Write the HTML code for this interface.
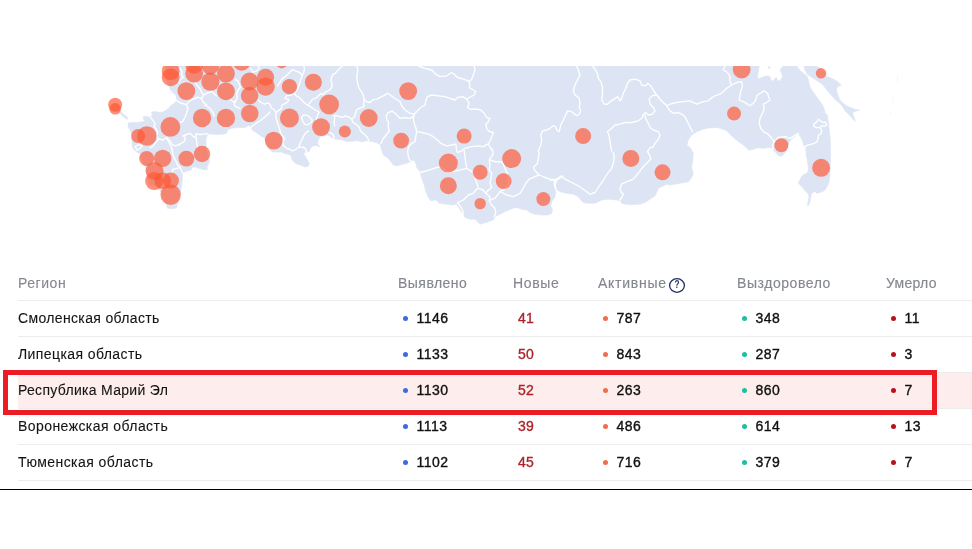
<!DOCTYPE html>
<html lang="ru">
<head>
<meta charset="utf-8">
<title>Коронавирус: статистика по регионам</title>
<style>
html,body{margin:0;padding:0;background:#fff;}
body{width:972px;height:549px;position:relative;overflow:hidden;font-family:"Liberation Sans",sans-serif;font-size:14px;color:#141414;}
#map{position:absolute;left:0;top:66px;display:block;}
.tbl{position:absolute;left:18px;top:265px;width:954px;}
.row{position:relative;height:35px;border-bottom:1px solid #ececec;}
.row.hd{color:#84878f;-webkit-text-stroke:0.15px #84878f;}
.row.hd .t{position:relative;top:1px;}
.row.hl{background:#feeded;}
.c{position:absolute;top:0;height:35px;line-height:35px;white-space:nowrap;}
.c1{left:0;-webkit-text-stroke:0.1px currentColor;}
.c2{left:380px;}
.c3{left:495px;}
.c4{left:580px;}
.c5{left:719px;}
.c6{left:868px;}
.n{color:#111;-webkit-text-stroke:0.36px #111;letter-spacing:0.45px;}
.new{color:#ab252d;-webkit-text-stroke:0.35px #ab252d;letter-spacing:0.25px;}
.d{position:absolute;left:5px;top:15px;width:5px;height:5px;border-radius:50%;}
.n .v{position:absolute;left:18.6px;}
.new .v{position:absolute;left:5px;}
.q{position:absolute;left:70px;top:11px;}
.b{background:#3b6be0}.o{background:#ee6e4b}.g{background:#1ebe9f}.r{background:#b9121b}
.frame{position:absolute;left:3px;top:370px;width:924px;height:35px;border:5px solid #ed1c24;}
.hr{position:absolute;left:0;top:489px;width:972px;height:1px;background:#000;}
</style>
</head>
<body>
<svg id="map" width="972" height="184" viewBox="0 66 972 184">
<defs><clipPath id="mc"><rect x="0" y="66" width="972" height="184"/></clipPath></defs>
<g clip-path="url(#mc)">
<g fill="#dde4f4" stroke="#dde4f4" stroke-width="0.6" stroke-linejoin="round">
<polygon points="166,60 759.2,60 759.2,66 758.3,71.7 757.5,76.7 758.3,79.2 761.7,77.5 766.7,75.8 770,76.7 770.8,80 773.3,81.3 775,78.3 776.7,77.5 777.5,80.8 780,80.8 782.5,76.7 781.7,73.3 780,70 781.7,67.5 783.3,66 783.3,60 797,60 797,66 798.8,68.9 801.4,71.8 804.5,73.9 807,76.4 808.3,79.6 809.1,83.4 810.2,87.1 812.4,90.9 815.2,94.7 817.7,98.4 820.2,101.6 822.7,105.3 824.2,109.1 825.5,113.5 827.3,115 828.6,125 830.2,137.6 830.5,145 830.6,150 830.6,155 830.4,162.6 830.1,172.6 829.7,177.6 828.8,182.7 827.2,186.4 825.3,189.6 822.8,191.5 819,192.7 816.5,193.3 815.3,191.5 813.4,192.1 811.5,194 810.6,197.7 810,201.5 809,204.6 807.7,205.9 807.5,204 808.4,200.3 809,197.1 808.4,194 806.5,192.1 804.6,190.2 802.7,187.7 800.2,185.2 798.3,182.7 800.2,179.5 801.5,176.4 804,174.5 807.7,172.6 808.4,168.8 807.7,163.8 807.1,158.8 805.9,153.8 804.7,147.7 803.4,143.9 802.2,140.2 800.3,136.4 798.4,133.2 795.3,136.4 791.5,138.9 789,142.7 787.7,146.4 786.5,150.2 784.5,153.3 782.5,155.5 780.7,156.5 778.5,155.5 775.8,152.7 773.3,150.2 771.4,147.7 767.6,147.7 762.6,148.3 757.6,147.7 752.6,149.6 748.8,150.2 746.3,147.7 743.8,145.2 740,142.7 737.5,140.8 733.3,137.5 730,134.2 726.7,130.8 721.7,128.7 716.7,127.5 708.3,128 703.3,129.2 696.7,131.7 691.7,135 688.3,140 687,145 687.5,145.8 690.8,148.3 693.3,153.3 692.5,161.7 691.7,168.3 693.3,173.3 691.7,177.5 688.3,181.7 681.7,183 675,184.2 670,185 666.7,184.2 663.3,185.8 658.3,188.3 656.7,192.5 655,195.8 650,199.2 645,202.5 640,204.2 630,204.7 625,204.2 621.7,203.3 620,200.8 616.7,200 608.3,199.2 601.7,200 598.3,201.7 595,203.3 588.3,203.3 583.3,202.5 580.8,200 578.3,196.7 573.3,194.2 566.7,193.3 560,191.7 555,188.3 554.2,187.5 555.8,191.7 555,196.7 551.7,201.7 550.8,205.8 552.5,210 551.7,213.3 548.3,215 541.7,215 535,214.2 530,212.5 526.7,210 521.7,209.2 516.7,207.5 513.3,208.3 506.7,210.8 500,214.2 495,216.7 493.3,220 488.3,221.7 483.3,223.3 480,224.2 477.5,221.7 475,219.2 470,219.2 465,217.5 463.3,214.2 460.8,210.8 458.3,206.7 456.7,204.2 451.7,205 446.7,204.2 439.2,203.3 435.8,200 430.8,200.8 428.3,197.5 425.8,191.7 424.2,185 421.7,178.3 420,171.7 416.7,167.5 415.8,163.3 413.3,160.8 406.7,163.3 400,165 396.7,166 393.3,165 388.3,158.3 383.3,155 381.7,150 380,144.2 373.3,141.7 366.7,140.8 361.5,141.9 357.5,140.6 352.5,141.3 346.3,141.3 342.5,140 337.5,139.4 333.1,138.8 330,136.3 327.5,135 321.3,136.3 319.4,138.1 318.1,140.6 317.5,143.8 320,146.9 316.3,145.6 312.5,146.3 310.6,148.1 309.4,151.3 306.3,151.9 303.8,153.1 304.4,155 306.3,158.1 308.1,161.3 309.4,163.8 308.1,166.3 305,166.9 301.3,165.6 296.3,163.8 293.8,161.9 291.9,159.4 291.3,156.3 288.8,154.4 285,153.8 281.3,151.9 277.5,152.3 272.5,151.9 270,150 268,147 264.4,138.1 261.3,136.3 258.8,134.4 255,131.9 251.9,130 251.3,126.9 248.8,125.6 245,127.5 238.3,127.5 231.7,128.3 227.5,130 226.7,133.3 223.3,134.2 216.7,134.5 208,134 206.3,137.5 205.8,142 206.3,146.3 206.7,150 208.3,156.7 209.6,161 208.8,163.8 206.9,166.9 207.5,169.4 205,170 200,168.8 195,166.9 191.9,167.5 191.3,170 186.3,171.3 182.5,173.1 182.5,178.3 181.7,185 180.8,190 178.3,201.7 177,205 176.7,208 171.7,208.7 167.5,208.3 166.7,205 166,204 164,200 162,195 160,190 156,186 150,184 147,178 146,168 142,160 140,153.8 137.5,152.5 134.4,150 132.5,147.5 131.9,142.5 132.2,138.3 131.9,133.8 130,130 128.1,126.9 128.1,123.1 131.3,122.5 136.3,122.5 141.3,121.9 145,121.3 143.1,118.8 143.8,116.3 150,116.9 152.5,115 151.3,111.9 155,111.5 158.8,112.3 162.5,112 165.7,110.4 168.8,107.9 170.7,105.5 173.8,103.5 176.5,101 175.1,98.4 175.7,95.3 173.2,92.8 170.7,90.3 168.8,85.9 166.5,80 166,72"/>
<polygon points="803.9,60 803.9,66 805.1,70.2 807,73.9 811.4,77.1 816.4,80.2 821.5,83.6 824.6,87.1 827.7,90.9 830.9,94.7 834,98.4 837.2,101.2 840.3,103.7 842.8,107.2 845.3,111 847.8,113.5 850.4,116.3 852.9,119.2 854.9,121.3 855,120.4 854.4,117.9 852.9,114.8 852.9,112.3 856,111 859.8,110.1 855.4,109.5 851.6,107.9 846.6,106 842.8,102.8 839.7,99.7 837.8,94.7 836.5,90.3 837.2,87.1 841.2,85 839,83.1 836.5,80.8 831.5,78.3 827.7,76.8 825.9,76.1 824.6,73.3 822.7,69.5 818.3,67.3 816.4,66 816.4,60"/>
<polygon points="113,105 118,105 120.5,112.3 122,112.6 127.8,117.8 127.2,119.3 125.5,118.5 120.3,113.8 113,109"/>
<circle cx="769.2" cy="67.5" r="0.9"/>
</g>
<g fill="none" stroke="#fff" stroke-width="1.35" stroke-linejoin="round" stroke-linecap="round">
<polyline points="418.3,66 425,68.3 431.7,70 435.8,74.2 440,76.7 446.7,75.8 451.7,72.5 454.2,74.2 457.5,77.5 463.3,79.2 468.3,80.8 470,84.2 469.2,87.5 473.3,90 475.8,91.7 474.2,95 469.2,97.5 466.7,99.2"/>
<polyline points="474.2,66 475,70 473.3,75 471.7,79.2 469.2,81.7"/>
<polyline points="466.7,99.2 462.5,96.7 457.5,97.5 455,100 450,98.3 445,96.7 438.3,95.8 431.7,95 427.5,96.7 425.8,100.8 425,105 420.8,107.5 417.5,110.8 414.2,114.2"/>
<polyline points="466.7,99.2 469.2,103.3 467.5,107.5 470,109.2 476.7,109.2 480.8,110 484.2,113.3 486.7,117.5 490,118.3 488.3,121.7 485.8,124.2 486.7,128.3 489.2,131.7 493.3,132.5 491.7,136.7 490,140.8 488.3,144.2 490.8,148.3 492.5,151"/>
<polyline points="400,101.7 401.7,105.8 405,110 410,113.3 414.2,114.2 413.3,118.3 414.2,123.3 415.8,127.5 416.7,131.7 415.8,136.7 415,141.7 411.7,143.3 408.7,146.7 407.7,150.8 408.3,156.7 410,160.8 414.2,161.7"/>
<polyline points="400,118.3 405,117.5 410,118.3 414.2,115.8"/>
<polyline points="416.7,131.7 421.7,132.5 428.3,134.2 433.3,136.7 437.5,140 440.8,143.3 446.7,145.8 451.7,145 455.8,144.2 456.7,151 457.5,152.5"/>
<polyline points="457.5,152.5 461.7,150.8 465,148.3 471.7,146.7 478.3,145.8 483.3,146.7 487.5,144.2"/>
<polyline points="555.8,126.7 553.3,125.8 550,128.3 546.7,130 542.5,130.8 540.8,135 541.7,140 540.8,145 538.3,151"/>
<polyline points="420,172.5 426.7,170.8 433.3,168.7 440,166.7 448,172.5 455.8,170.8 461.7,169.7 466.7,168.3 470.8,170.8 473.3,173.3"/>
<polyline points="464.2,150.8 465,156.7 465.8,163.3 466.7,168.3"/>
<polyline points="490.8,148.3 492.5,150 493.3,154.2 490.8,157.5 489.2,160 490,165 489.2,170 491.7,173.3 490.8,178.3 490,183.3 491.7,187.5 488.3,190 485.8,193.3"/>
<polyline points="473.3,173.3 475.8,180 477.5,185 478.3,188.3 475.8,190 473.3,193.3 468.3,195 463.3,200 457.5,202.5 460,205.8 462.5,210 463.3,214.2"/>
<polyline points="478.3,188.3 483.3,190 485.8,193.3 490,196.7 489.2,200.8 491.7,205 495,208.3 495.8,212.5 494.2,216.7"/>
<polyline points="490,160 495,161.7 501.7,161.7 503.5,164.5 505,168.5 507,173 509,178 508.5,184 505,189 500,191.7"/>
<polyline points="490,200 495,198.3 500,191.7 506.7,195 513.3,196.7 520,193.3 523.3,188.3 525.8,183.3 529.2,179.2 535,176.7 539.2,175 545,177.5 550,179.2 556.7,180 562,176.7"/>
<polyline points="538.3,151 539.2,153.3 538.3,158.3 537.5,163.3 533.3,167.5 535,170.8 539.2,175"/>
<polyline points="556.7,180 555,185 555.8,188.3"/>
<polyline points="576.7,66 578.3,70 580,75 577.5,80 575,85 573.3,90.8 575,95 579.2,98.3 580,103.3 579.2,107.5 580.8,110.8 579.2,114.2 576.7,115.8 571.7,111.7 567.5,110.8 565.8,115 563.3,120 560.8,125 559.2,131.7 556.7,130 555.8,127.5"/>
<polyline points="592.5,66 595,69.2 597.5,73.3 598.3,78.3 600.8,81.7 602.5,86.7 602.5,93.3 601.7,100 604.2,104.2 607.5,104.2 610,101.7 614.2,99.2 617.5,96.7 620,100.8 621.7,98.3 623.3,93.3 625.8,88.3 627.5,83.3 630,80 635,79.2 640,80.8 641.7,85 645.8,85.8 647.5,83.3 650.8,85.8 653.3,90 656.7,95 660,99.2 663.3,102.5 666.7,105.8"/>
<polyline points="666.7,105.8 670,104.2 676.7,102.5 683.3,101.7 690,100.8 696.7,104.2 703.3,101.7 708.3,100.8 712,97.5"/>
<polyline points="666.7,105.8 669.2,110 673.3,113.3 678.3,112.5 681.7,114.2 685,116.7 687.5,121.7 690,126.7 692.5,131.7"/>
<polyline points="656.7,95 651.7,95.8 649.2,99.2 650,104.2 653.3,107.5 655,110.8 652.5,114.2 648.3,115 645.8,112.5 643.3,114.2 642.5,117.5 638.3,120.8 631.7,122.5 625,122.5 620,124.2 615,125 611.7,128.3 607.5,131.7 609.2,135.8 610,141.7 610.8,146.7 611.7,151"/>
<polyline points="645,115 645.8,119.2 648.3,123.3 650,127.5 653.3,130 658.3,131.7 660,135 658.3,139.2 655,143.3 652.5,147.5"/>
<polyline points="550,180 555,180 561.7,175.8 565,179.2 571.7,182.5 578.3,185.8 583.3,189.2 586.7,191.7 590,194.2 595,192.5 598.3,187.5 601.7,182.5 605,177.5 608.3,172.5 611.7,168.3 613.3,163.3 614.2,156.7 613.3,152.5"/>
<polyline points="555,180 554.2,185 555.8,189.2"/>
<polyline points="652.5,147.5 650,147.5 647.5,151.7 650,155.8 650.8,159.2 646.7,163.3 642.5,167.5 640,170.8 637.5,174.2 635,177.5 631.7,180 626.7,181.7 621.7,184.2 620,188.3 620.8,191.7 623.3,194.2 621.7,197.5 620,200"/>
<polyline points="725,66 723.3,70 727.5,72.5 730,76.7 730,81.7 731.7,85 726.7,88.3 723.3,91.7 720,94.2 715,95.8 710,99.2"/>
<polyline points="731.7,85 736.7,82.5 741.7,81.7 742.5,86.7 740.8,90.8 740,95 739.2,100 743.3,101.7 747.5,104.2 750,105.8 753.3,103.3 755.8,100 756.7,95.8 760,93.3 764.2,90.8 767.5,93.3 769.2,98.3 770,100 766.7,102.5 763.3,104.2 764.2,108.3 762.5,113.3 760,118.3 759.2,123.3 760.8,128.3 763.3,131.7 768.3,134.2 771.7,138.3 774.2,141.7"/>
<polyline points="774.2,141.7 778.3,137.5 785,136.7 790,138.3 794.2,135.8 798.3,133.3"/>
<polyline points="774.2,141.7 772.8,145 772.8,149.2"/>
<polyline points="818.5,119.4 821,121.3 823.5,122.6 825.4,121.9 826.7,125.1 824.2,126.3 821.7,125.7 819.8,127.6 821.7,130.1 821,133.9 818.5,135.1 817.9,138.9 817.3,141.4 814.1,143.3 810.4,144.5 807.2,145.2 805.3,146.4 804.7,150.2 805.3,152.7"/>
<polyline points="818.5,119.4 816.6,121.9 814.1,123.8 813.5,125.7 816,127.6 819.8,127.6"/>
<polyline points="180.1,68.3 182,71.4 181.4,74.6 183.2,77.1 180.1,79.6 178.8,82.1"/>
<polyline points="195.2,82.7 197.7,85.9 200.2,89 202.1,93.4 204,94.7 201.5,98.4 203.3,102.2 206.5,104.7 207,105"/>
<polyline points="204,94.7 207.7,92.8 211.5,91.5 214,93.4 216.5,95.9"/>
<polyline points="175.1,95.9 175.7,99.7 178.8,102.2 182.6,103.5 186.4,104.7 188.3,102.2 191.4,99.7 195.2,98.4 197.7,97.2 201.5,98.4"/>
<polyline points="186.4,104.7 186.5,105"/>
<polyline points="235.4,79.6 237.9,80.8 240.4,87.1 238.5,89.6 236.6,93.4 237.3,98.4 235.4,100.9 234.1,104.7 236.6,107.2 240,108.4"/>
<polyline points="258,99.7 260.5,102.2 264.3,104.1 268,102.8 270,104.3"/>
<polyline points="230.4,99.7 234.1,102.2 235.4,100.9"/>
<polyline points="250.5,68.3 253,72.1 256.7,70.8 259.2,68.3 258,66"/>
<polyline points="204.8,105 206.8,106.3 210.6,108.8 213.1,112.6 214.3,116.3"/>
<polyline points="186.7,105 186.7,105 187.9,108.8 186.7,112.6 185.4,116.3 182.9,121.4 180.4,122.6"/>
<polyline points="150.3,117 152.8,120.1 155.3,123.9 154,126.4 155.9,128.9 157.8,132.7 156.5,136.4 159,138.9 162.8,140.2 166.6,137.7 170.4,141.5 172.2,144.6 175.4,145.9 180.4,144 184.2,141.5 185.4,137.7 182.9,135.8 186.7,134.5 190.5,133.3 193,136.4 196.1,137.7 195.5,133.9 200.5,134.5 205.5,133.9 208,133.9"/>
<polyline points="196.1,137.7 196.7,142.7 197.4,146.5"/>
<polyline points="166.6,137.7 168.5,141.5 170.4,145.2 172.2,149 172.7,150"/>
<polyline points="159,138.9 155.3,142.7 152.8,146.5 150.3,147.7"/>
<polyline points="135.2,146.5 138.9,144.6 142.7,145.2 140.2,148.4 137.6,150"/>
<polyline points="136.9,150 135.2,146.5"/>
<polyline points="172.1,150 172.1,150.1 172.7,153.8 174,157.6 175.9,161.4 177.7,165.1 180.3,167.6 181.5,170.8 182.8,173.3"/>
<polyline points="180.3,167.6 176.5,168.3 172.7,169.5 172.1,172.7"/>
<polyline points="303.9,66 304.5,69.5 303.3,73.3 301.4,77.1 300.2,82.1 298.3,87.1 296.4,90.9 293.9,93.4 290.1,95.3 286.3,95.9 285.1,98.4 288.8,99.7 287.6,102.2 283.8,104.1 281.9,105.3 281.3,108.5 278.8,110.4 276.3,112.3 275.7,116 276.9,121 278.2,124.8 279.4,128.6 280.1,131"/>
<polyline points="277.5,85.9 280.1,82.1 282.6,78.3 286.3,75.8 288.8,73.3 292.6,69.5 295.1,70.8 298.9,72.1 302,74.6"/>
<polyline points="293.9,93.4 296.4,95.9 300.2,98.4 302.7,100.9 305.2,103.5 307.7,105.3 311.5,107.2 314.6,109.7 317.7,111 319,112.3"/>
<polyline points="307.7,105.3 310.2,102.2 312.7,99.1 316.5,97.8 319,95.3 320.9,93.4 322.8,94.7 325.3,92.2 329,90.3 331.6,87.8 332.2,84.6 330.9,80.8 331.6,77.1 332.8,74.6 335.3,73.3 337.8,70.2 340.4,67.7 342.2,66"/>
<polyline points="356.7,66 357.9,69.5 357.3,73.3 356.7,77.1 357.3,80.8 357.9,84.6 359.2,88.4 361.7,92.2 363.6,95.9 364.2,99.7 363.6,103.5 364.2,106.6 360.5,107.9 356.7,109.7 355.4,113.5 354.2,117.3 351.7,119.2 352.9,122.3 356.7,124.8 359.2,127.3 360.5,131"/>
<polyline points="364.2,99.7 367.4,102.2 370.5,102.2 373,99.7 376.8,99.1 380.6,97.2 384.3,95.3 387.5,93.4 390,94.7 392.1,96.5"/>
<polyline points="319,112.3 317.7,114.8 317.1,117.3 315.9,119.8"/>
<polyline points="334.1,115.4 337.8,116 341.6,117.3 345.4,116 349.1,117.3 351.7,119.2"/>
<polyline points="334.1,115.4 334.7,118.5 334.1,122.3 334.7,126.1"/>
<polyline points="270,104.7 271.9,108.5 274.4,109.7 275.7,112.3"/>
<polyline points="392.1,111 389.3,112.3 388.1,112.3 386.2,116 386.8,119.8 388.7,122.3 388.1,126.1 389.3,131"/>
<polyline points="280.3,131 280.8,133.9 283.3,136.4 284.6,138.9 282.7,141.4 283.3,145.2 286.5,148.3 289.6,149 292.1,150.9 294.6,150.2 297.2,148.3 299,147.1 302.8,147.1 305.3,148.3 306.6,152.1"/>
<polyline points="270,111.8 269.5,112.5 266.4,115.7 263.2,118.2 260.1,120.7 256.3,123.2 252.6,125.7 251.3,127"/>
<polyline points="299,147.1 299.7,143.9 301.6,140.2 303.4,136.4 305.3,133.3 307.8,131.4 308.8,131"/>
<polyline points="329.8,132.6 333,134.5 334.2,137 333.6,138.9"/>
<polyline points="392.1,96.5 396,99 400,101.7"/>
<polyline points="392,111 396,114 400,118.3"/>
<polyline points="301.4,117.3 303.9,114.8 307.7,115.4 310.2,117.9 312.1,119.8 311.5,122.3 307.7,124.8 304.5,124.2 302.7,121 301.4,117.3"/>
<polyline points="360.5,131 364,134 367,137 369,140.5"/>
<polyline points="389.4,131 386,135 383,139 381,143.5"/>
</g>
<g fill="none" stroke="#eef1f9" stroke-width="0.7" stroke-linecap="round"><path d="M897.6 76.5V83M893 96.5l-.3 6M890.4 111.2v2.8"/></g>
<g fill="#ff5733" fill-opacity="0.67">
<circle cx="115.15" cy="104.7" r="7"/>
<circle cx="115.15" cy="108.8" r="5.8"/>
<circle cx="170.65" cy="71.1" r="8.9"/>
<circle cx="170.65" cy="77.3" r="8.9"/>
<circle cx="194.15" cy="73.6" r="8.9"/>
<circle cx="194.15" cy="64.8" r="8.9"/>
<circle cx="210.35" cy="65.8" r="8.9"/>
<circle cx="225.95" cy="73.6" r="8.9"/>
<circle cx="241.65" cy="61.8" r="8.9"/>
<circle cx="186.35" cy="91.1" r="8.9"/>
<circle cx="210.35" cy="81.7" r="9.1"/>
<circle cx="225.95" cy="91.3" r="8.9"/>
<circle cx="249.6" cy="95.6" r="8.8"/>
<circle cx="249.5" cy="81.5" r="8.9"/>
<circle cx="265.6" cy="77.2" r="8.5"/>
<circle cx="265.6" cy="86.6" r="9.2"/>
<circle cx="281.65" cy="62.3" r="6.1"/>
<circle cx="170.35" cy="126.9" r="9.9"/>
<circle cx="202.05" cy="118" r="9.2"/>
<circle cx="225.95" cy="117.9" r="9.2"/>
<circle cx="249.75" cy="113.5" r="8.8"/>
<circle cx="138.15" cy="136" r="7.1"/>
<circle cx="146.85" cy="136" r="9.8"/>
<circle cx="146.65" cy="158.5" r="7.5"/>
<circle cx="162.65" cy="158.4" r="8.7"/>
<circle cx="186.35" cy="158.6" r="7.9"/>
<circle cx="202.05" cy="154" r="8.2"/>
<circle cx="154.55" cy="171" r="9"/>
<circle cx="154.15" cy="181.1" r="9"/>
<circle cx="162.75" cy="180.8" r="8.3"/>
<circle cx="170.95" cy="180.6" r="8"/>
<circle cx="170.65" cy="194.8" r="10.2"/>
<circle cx="289.45" cy="86.7" r="7.6"/>
<circle cx="313.35" cy="82.2" r="8.5"/>
<circle cx="329.15" cy="104.5" r="9.9"/>
<circle cx="289.45" cy="118" r="9.5"/>
<circle cx="273.75" cy="140.6" r="8.9"/>
<circle cx="321.05" cy="127.1" r="8.9"/>
<circle cx="344.85" cy="131.5" r="6"/>
<circle cx="368.75" cy="118" r="8.9"/>
<circle cx="408.15" cy="91.1" r="8.9"/>
<circle cx="401.15" cy="140.6" r="7.9"/>
<circle cx="464.15" cy="136.1" r="7.5"/>
<circle cx="448.35" cy="163.1" r="9.5"/>
<circle cx="448.35" cy="185.8" r="8.5"/>
<circle cx="480.15" cy="172.3" r="7.5"/>
<circle cx="480.15" cy="203.6" r="5.7"/>
<circle cx="511.65" cy="158.6" r="9.5"/>
<circle cx="503.65" cy="181.1" r="7.9"/>
<circle cx="543.35" cy="199.1" r="7"/>
<circle cx="583.15" cy="136.1" r="8"/>
<circle cx="630.85" cy="158.6" r="8.5"/>
<circle cx="662.55" cy="172.3" r="8"/>
<circle cx="741.65" cy="69.5" r="8.9"/>
<circle cx="821.05" cy="73.3" r="5.2"/>
<circle cx="734.05" cy="113.6" r="7"/>
<circle cx="781.35" cy="145.3" r="7"/>
<circle cx="821.15" cy="167.8" r="9"/>
</g>
</g>
</svg>
<div class="tbl">
 <div class="row hd"><div class="c c1"><span class="t" style="letter-spacing:0.54px">Регион</span></div><div class="c c2"><span class="t" style="letter-spacing:0.47px">Выявлено</span></div><div class="c c3"><span class="t" style="letter-spacing:0.62px">Новые</span></div><div class="c c4"><span class="t" style="letter-spacing:0.74px">Активные</span><svg class="q" width="18" height="18" viewBox="0 0 18 18"><ellipse cx="9" cy="9.5" rx="7.4" ry="6.8" fill="#fff" stroke="#1d3062" stroke-width="1.3"/><text x="9" y="12.2" text-anchor="middle" transform="translate(9 0) scale(0.78 1) translate(-9 0)" font-family="Liberation Sans, sans-serif" font-size="10.5" font-weight="bold" fill="#2a3a66">?</text></svg></div><div class="c c5"><span class="t" style="letter-spacing:0.56px">Выздоровело</span></div><div class="c c6"><span class="t" style="letter-spacing:0.28px">Умерло</span></div></div>
 <div class="row"><div class="c c1"><span class="t" style="letter-spacing:0.35px">Смоленская область</span></div><div class="c c2 n"><i class="d b"></i><span class="v">1146</span></div><div class="c c3 new"><span class="v">41</span></div><div class="c c4 n"><i class="d o"></i><span class="v">787</span></div><div class="c c5 n"><i class="d g"></i><span class="v">348</span></div><div class="c c6 n"><i class="d r"></i><span class="v">11</span></div></div>
 <div class="row"><div class="c c1"><span class="t" style="letter-spacing:0.41px">Липецкая область</span></div><div class="c c2 n"><i class="d b"></i><span class="v">1133</span></div><div class="c c3 new"><span class="v">50</span></div><div class="c c4 n"><i class="d o"></i><span class="v">843</span></div><div class="c c5 n"><i class="d g"></i><span class="v">287</span></div><div class="c c6 n"><i class="d r"></i><span class="v">3</span></div></div>
 <div class="row hl"><div class="c c1"><span class="t" style="letter-spacing:0.3px">Республика Марий Эл</span></div><div class="c c2 n"><i class="d b"></i><span class="v">1130</span></div><div class="c c3 new"><span class="v">52</span></div><div class="c c4 n"><i class="d o"></i><span class="v">263</span></div><div class="c c5 n"><i class="d g"></i><span class="v">860</span></div><div class="c c6 n"><i class="d r"></i><span class="v">7</span></div></div>
 <div class="row"><div class="c c1"><span class="t" style="letter-spacing:0.43px">Воронежская область</span></div><div class="c c2 n"><i class="d b"></i><span class="v">1113</span></div><div class="c c3 new"><span class="v">39</span></div><div class="c c4 n"><i class="d o"></i><span class="v">486</span></div><div class="c c5 n"><i class="d g"></i><span class="v">614</span></div><div class="c c6 n"><i class="d r"></i><span class="v">13</span></div></div>
 <div class="row"><div class="c c1"><span class="t" style="letter-spacing:0.45px">Тюменская область</span></div><div class="c c2 n"><i class="d b"></i><span class="v">1102</span></div><div class="c c3 new"><span class="v">45</span></div><div class="c c4 n"><i class="d o"></i><span class="v">716</span></div><div class="c c5 n"><i class="d g"></i><span class="v">379</span></div><div class="c c6 n"><i class="d r"></i><span class="v">7</span></div></div>
</div>
<div class="frame"></div>
<div class="hr"></div>
</body>
</html>
